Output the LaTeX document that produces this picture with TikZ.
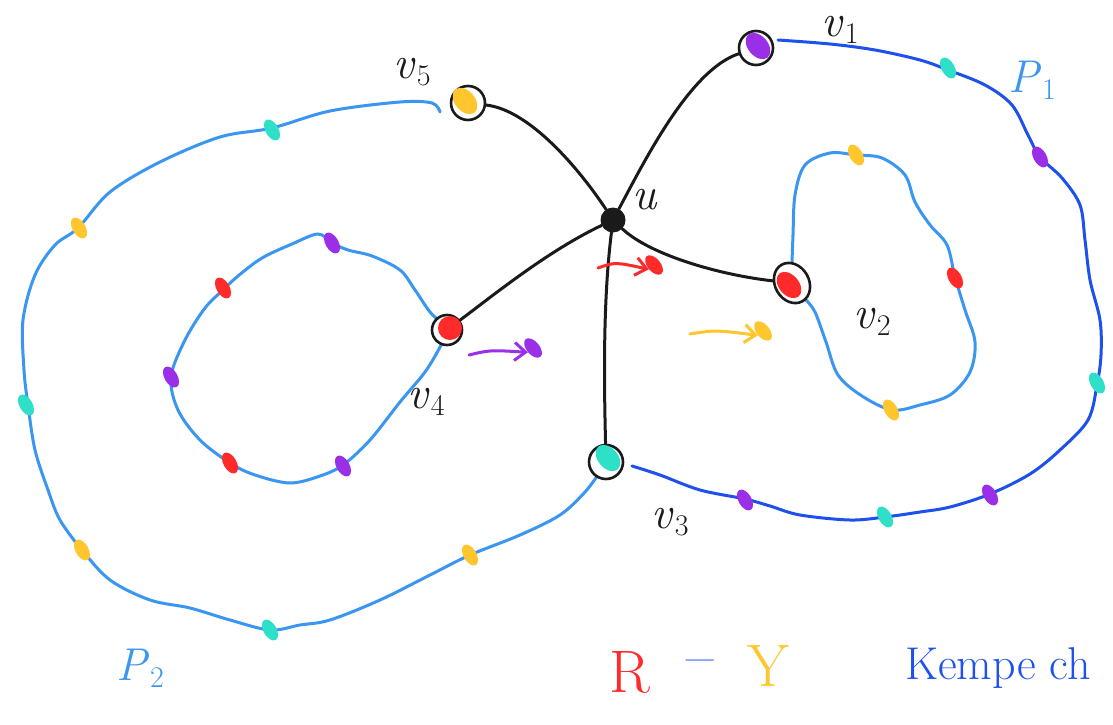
\documentclass[tikz,border=0pt]{standalone}
\usepackage{fontspec}
\usetikzlibrary{shapes.geometric,arrows.meta}
\definecolor{lblue}{HTML}{3A96F0}
\definecolor{dblue}{HTML}{1E50EB}
\definecolor{kpurple}{HTML}{9B2FE8}
\definecolor{kteal}{HTML}{2EE0C8}
\definecolor{kyellow}{HTML}{FFC62E}
\definecolor{kred}{HTML}{FF2A2A}
\definecolor{ink}{HTML}{1A1A1A}
\newcommand{\vlab}[2]{\textit{#1}\kern1pt\raisebox{-0.35ex}{\fontsize{30}{30}\selectfont #2}}
\begin{document}
\begin{tikzpicture}[x=1pt,y=-1pt,line cap=round,line join=round,
  lpath/.style={draw=lblue,line width=3pt},
  dpath/.style={draw=dblue,line width=3pt},
  blk/.style={draw=ink,line width=3pt},
  kd/.style={ellipse,inner sep=0pt,minimum width=13pt,minimum height=23pt,rotate=30},
  ring/.style={circle,draw=ink,line width=2.6pt,minimum size=34pt,inner sep=0pt,fill=white},
  core/.style={ellipse,inner sep=0pt,minimum width=20pt,minimum height=30pt,rotate=40},
  lab/.style={font=\fontsize{46}{46}\selectfont,text=ink},
  hook/.style={line width=3pt,-{Straight Barb[length=11pt,width=18pt]}}]
\useasboundingbox[fill=white] (0,0) rectangle (1113,725);

% P2 outer loop (light blue)
\draw[lpath] plot[smooth,tension=0.55] coordinates {
 (600,472) (585,492) (560,515) (520,535) (470,555) (430,575) (380,600) (330,620)
 (300,625) (270,630) (230,620) (190,608) (150,600) (110,580) (82,550) (60,520)
 (48,490) (35,450) (28,405) (24,370) (23,320) (35,275) (55,245) (78,228)
 (110,192) (160,162) (220,137) (272,128) (330,111) (400,102) (432,103) (440,112)};

% P1 outer loop (dark blue)
\draw[dpath] plot[smooth,tension=0.55] coordinates {
 (778,40) (830,44) (875,50) (920,60) (948,70) (985,85) (1012,105) (1028,135)
 (1040,157) (1062,178) (1080,205) (1085,240) (1090,280) (1100,320) (1101,355)
 (1097,385) (1088,420) (1060,450) (1030,474) (990,494) (950,507) (920,512)
 (885,517) (850,520) (800,515) (770,506) (745,499) (700,490) (660,475) (632,466)};

% inner left loop
\draw[lpath] plot[smooth cycle,tension=0.55] coordinates {
 (447,330) (430,312) (415,290) (400,270) (372,256) (348,250) (332,243) (318,234)
 (292,244) (262,258) (238,276) (223,290) (205,308) (185,340) (171,377)
 (178,410) (200,440) (230,463) (255,475) (290,483) (320,476) (343,465)
 (370,440) (400,402) (425,372) (440,347)};

% inner right loop
\draw[lpath] plot[smooth,tension=0.55] coordinates {
 (792,262) (793,235) (795,195) (805,165) (830,153) (856,155) (882,158) (905,175)
 (915,202) (930,225) (947,245) (955,277) (965,310) (975,342) (970,372)
 (950,395) (920,405) (892,410) (862,396) (838,375) (826,342) (815,312) (806,300)};

% vertices
\node[circle,fill=ink,minimum size=25pt,inner sep=0pt] (u) at (613,220) {};
\node[ring] (v5) at (468,103) {};
\node[core,fill=kyellow] at (465,101) {};
\node[ring] (v1) at (756,48) {};
\node[core,fill=kpurple] at (758,46) {};
\node[ring,rotate=30,ellipse,minimum width=34pt,minimum height=42pt] (v2) at (792,283) {};
\node[core,fill=kred] at (789,285) {};
\node[ring] (v3) at (606,462) {};
\node[core,fill=kteal] at (608,458) {};
\node[ring,minimum size=30pt] (v4) at (447,330) {};
\node[circle,fill=kred,inner sep=0pt,minimum size=24pt] at (450,328) {};

% edges from u
\draw[blk] (u) .. controls (580,170) and (530,110) .. (v5);
\draw[blk] (u) .. controls (645,160) and (690,70) .. (v1);
\draw[blk] (u) .. controls (650,255) and (720,275) .. (v2);
\draw[blk] (u) .. controls (603,300) and (604,380) .. (v3);
\draw[blk] (u) .. controls (550,250) and (500,290) .. (v4);

% coloured dots on P2
\node[kd,fill=kteal] (a1) at (272,130) {};
\node[kd,fill=kyellow] (a2) at (79,228) {};
\node[kd,fill=kteal] (a3) at (26,405) {};
\node[kd,fill=kyellow] (a4) at (82,550) {};
\node[kd,fill=kteal] (a5) at (270,630) {};
\node[kd,fill=kyellow] (a6) at (470,555) {};
% dots on P1
\node[kd,fill=kteal] (b1) at (948,68) {};
\node[kd,fill=kpurple] (b2) at (1040,157) {};
\node[kd,fill=kteal] (b3) at (1097,383) {};
\node[kd,fill=kpurple] (b4) at (990,495) {};
\node[kd,fill=kteal] (b5) at (885,517) {};
\node[kd,fill=kpurple] (b6) at (745,500) {};
% dots on inner left loop
\node[kd,fill=kpurple] (c1) at (332,243) {};
\node[kd,fill=kred] (c2) at (223,288) {};
\node[kd,fill=kpurple] (c3) at (171,377) {};
\node[kd,fill=kred] (c4) at (230,463) {};
\node[kd,fill=kpurple] (c5) at (343,466) {};
% dots on inner right loop
\node[kd,fill=kyellow] (d1) at (856,155) {};
\node[kd,fill=kred] (d2) at (955,278) {};
\node[kd,fill=kyellow] (d3) at (891,410) {};

% recolouring arrows
\node[kd,fill=kred,rotate=10] (rdot) at (654,265) {};
\coordinate (rs) at (598,268);
\draw[hook,draw=kred] (rs) .. controls (615,262) .. (rdot.west);
\node[kd,fill=kyellow,rotate=10] (ydot) at (763,331) {};
\coordinate (ys) at (690,334);
\draw[hook,draw=kyellow] (ys) .. controls (715,330) .. (ydot.west);
\node[kd,fill=kpurple,rotate=10] (pdot) at (533,348) {};
\coordinate (ps) at (469,355);
\draw[hook,draw=kpurple] (ps) .. controls (490,350) .. (pdot.west);

% labels
\node[lab] (l5) at (412,72) {\vlab{v}{5}};
\node[lab] (l1) at (840,30) {\vlab{v}{1}};
\node[lab] (lu) at (645,200) {\textit{u}};
\node[lab] (l2) at (872,322) {\vlab{v}{2}};
\node[lab] (l4) at (426,402) {\vlab{v}{4}};
\node[lab] (l3) at (670,522) {\vlab{v}{3}};
\node[lab,text=lblue] (lp1) at (1032,80) {\vlab{P}{1}};
\node[lab,text=lblue] (lp2) at (140,668) {\vlab{P}{2}};
\node[font=\fontsize{60}{60}\selectfont,text=kred] (tr) at (630,672) {R};
\node[font=\fontsize{60}{60}\selectfont,text=dblue] (tm) at (700,668) {--};
\node[font=\fontsize{60}{60}\selectfont,text=kyellow] (ty) at (768,666) {Y};
\node[font=\fontsize{46}{46}\selectfont,text=dblue,anchor=west,inner sep=0pt] (tk) at (905,668) {Kempe ch};
\end{tikzpicture}
\end{document}
